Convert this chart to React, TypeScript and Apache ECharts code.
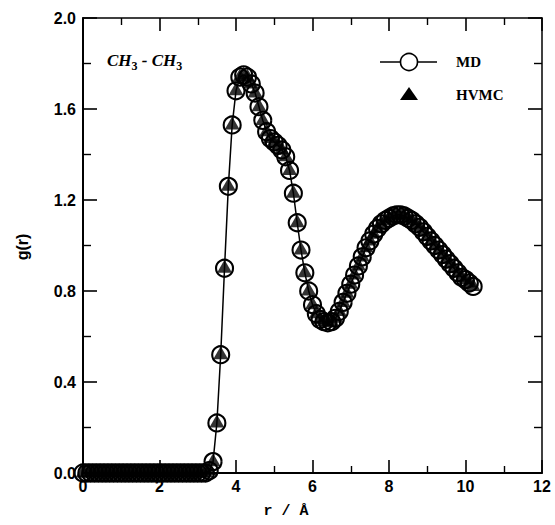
import { useEffect, useRef } from "react";
import * as echarts from "echarts";

// r / Å
const rValues = [
  0.0, 0.1, 0.2, 0.3, 0.4, 0.5, 0.6, 0.7, 0.8, 0.9,
  1.0, 1.1, 1.2, 1.3, 1.4, 1.5, 1.6, 1.7, 1.8, 1.9,
  2.0, 2.1, 2.2, 2.3, 2.4, 2.5, 2.6, 2.7, 2.8, 2.9,
  3.0, 3.1, 3.2, 3.3, 3.4, 3.5, 3.6, 3.7, 3.8, 3.9,
  4.0, 4.1, 4.2, 4.3, 4.4, 4.5, 4.6, 4.7, 4.8, 4.9,
  5.0, 5.1, 5.2, 5.3, 5.4, 5.5, 5.6, 5.7, 5.8, 5.9,
  6.0, 6.1, 6.2, 6.3, 6.4, 6.5, 6.6, 6.7, 6.8, 6.9,
  7.0, 7.1, 7.2, 7.3, 7.4, 7.5, 7.6, 7.7, 7.8, 7.9,
  8.0, 8.1, 8.2, 8.3, 8.4, 8.5, 8.6, 8.7, 8.8, 8.9,
  9.0, 9.1, 9.2, 9.3, 9.4, 9.5, 9.6, 9.7, 9.8, 9.9,
  10.0, 10.1, 10.2,
];

// g(r), MD
const mdG = [
  0, 0, 0, 0, 0, 0, 0, 0, 0, 0,
  0, 0, 0, 0, 0, 0, 0, 0, 0, 0,
  0, 0, 0, 0, 0, 0, 0, 0, 0, 0,
  0, 0, 0, 0.01, 0.05, 0.22, 0.52, 0.9, 1.26, 1.53,
  1.68, 1.74, 1.75, 1.74, 1.71, 1.67, 1.61, 1.55, 1.5, 1.47,
  1.455, 1.44, 1.42, 1.39, 1.33, 1.23, 1.1, 0.98, 0.88, 0.8,
  0.74, 0.7, 0.675, 0.665, 0.66, 0.665, 0.68, 0.71, 0.75, 0.79,
  0.83, 0.87, 0.91, 0.95, 0.99, 1.02, 1.05, 1.075, 1.095, 1.11,
  1.12, 1.13, 1.135, 1.135, 1.13, 1.12, 1.11, 1.095, 1.08, 1.06,
  1.04, 1.02, 1.0, 0.98, 0.96, 0.94, 0.92, 0.9, 0.88, 0.86,
  0.85, 0.835, 0.82,
];

// g(r), HVMC (coincides with MD in the figure)
const hvmcG = [
  0, 0, 0, 0, 0, 0, 0, 0, 0, 0,
  0, 0, 0, 0, 0, 0, 0, 0, 0, 0,
  0, 0, 0, 0, 0, 0, 0, 0, 0, 0,
  0, 0, 0, 0.01, 0.05, 0.22, 0.52, 0.9, 1.26, 1.53,
  1.68, 1.74, 1.75, 1.74, 1.71, 1.67, 1.61, 1.55, 1.5, 1.47,
  1.455, 1.44, 1.42, 1.39, 1.33, 1.23, 1.1, 0.98, 0.88, 0.8,
  0.74, 0.7, 0.675, 0.665, 0.66, 0.665, 0.68, 0.71, 0.75, 0.79,
  0.83, 0.87, 0.91, 0.95, 0.99, 1.02, 1.05, 1.075, 1.095, 1.11,
  1.12, 1.13, 1.135, 1.135, 1.13, 1.12, 1.11, 1.095, 1.08, 1.06,
  1.04, 1.02, 1.0, 0.98, 0.96, 0.94, 0.92, 0.9, 0.88, 0.86,
  0.85, 0.835, 0.82,
];

const xRange = [0, 12];
const xStep = 2;
const yRange = [0, 2];
const yStep = 0.4;
const seriesNames = ["MD", "HVMC"];

export default function App() {
  const ref = useRef<HTMLDivElement>(null);
  useEffect(() => {
    if (!ref.current) return;
    const chart = echarts.init(ref.current, null, { renderer: "svg" });
    const black = "#000";
    const labelFont = {
      color: black,
      fontFamily: "Liberation Sans",
      fontWeight: "bold" as const,
      fontSize: 16,
    };
    const mkX = (pos: "bottom" | "top", showLabel: boolean, w: number) => ({
      type: "value" as const,
      position: pos,
      min: xRange[0],
      max: xRange[1],
      interval: xStep,
      axisLine: { show: true, onZero: false, lineStyle: { color: black, width: w } },
      axisTick: { show: true, inside: true, length: 13, lineStyle: { color: black, width: 1.6 } },
      minorTick: { show: true, splitNumber: 2, length: 7, lineStyle: { color: black, width: 1.4 } },
      splitLine: { show: false },
      axisLabel: { show: showLabel, margin: 5, ...labelFont },
    });
    const mkY = (pos: "left" | "right", showLabel: boolean, w: number) => ({
      type: "value" as const,
      position: pos,
      min: yRange[0],
      max: yRange[1],
      interval: yStep,
      axisLine: { show: true, onZero: false, lineStyle: { color: black, width: w } },
      axisTick: { show: true, inside: true, length: 14, lineStyle: { color: black, width: 1.6 } },
      minorTick: { show: true, splitNumber: 2, length: 8, lineStyle: { color: black, width: 1.4 } },
      splitLine: { show: false },
      axisLabel: {
        show: showLabel,
        margin: 7,
        formatter: (v: number) => v.toFixed(1),
        ...labelFont,
      },
    });

    const mdData = rValues.map((r, i) => [r, mdG[i]]);
    const hvData = rValues.map((r, i) => [r, hvmcG[i]]);

    chart.setOption({
      animation: false,
      backgroundColor: "#fff",
      grid: { left: 83, right: 13, top: 18, bottom: 52, containLabel: false },
      xAxis: [mkX("bottom", true, 2), mkX("top", false, 1.5)],
      yAxis: [mkY("left", true, 2), mkY("right", false, 1.5)],
      series: [
        {
          name: seriesNames[0],
          type: "line",
          data: mdData,
          xAxisIndex: 0,
          yAxisIndex: 0,
          clip: false,
          symbol: "circle",
          symbolSize: 17,
          showAllSymbol: true,
          lineStyle: { color: black, width: 1.5 },
          itemStyle: { color: "none", borderColor: black, borderWidth: 2.1 },
          emphasis: { disabled: true },
          z: 2,
        },
        {
          name: seriesNames[1],
          type: "scatter",
          data: hvData,
          xAxisIndex: 0,
          yAxisIndex: 0,
          clip: false,
          symbol: "triangle",
          symbolSize: [15, 13],
          symbolOffset: [0, -2],
          itemStyle: { color: black },
          emphasis: { disabled: true },
          z: 3,
        },
      ],
      graphic: [
        // CH3 - CH3 annotation
        {
          type: "text",
          left: 107,
          top: 52,
          style: {
            text: "{a|CH}{s|3}{a| - CH}{s|3}",
            rich: {
              a: {
                fontFamily: "Liberation Serif",
                fontStyle: "italic",
                fontWeight: "bold",
                fontSize: 17,
                fill: black,
              },
              s: {
                fontFamily: "Liberation Serif",
                fontWeight: "bold",
                fontSize: 12,
                fill: black,
                padding: [10, 0, 0, 0],
              },
            },
          },
        },
        // legend: MD
        { type: "line", shape: { x1: 380, y1: 62, x2: 437, y2: 62 }, style: { stroke: black, lineWidth: 1.3 } },
        { type: "circle", shape: { cx: 409, cy: 62, r: 8.5 }, style: { fill: "#fff", stroke: black, lineWidth: 1.6 } },
        {
          type: "text",
          x: 456,
          y: 62,
          style: {
            text: seriesNames[0],
            fontFamily: "Liberation Serif",
            fontWeight: "bold",
            fontSize: 15,
            fill: black,
            verticalAlign: "middle",
          },
        },
        // legend: HVMC
        {
          type: "polygon",
          shape: { points: [[409, 87], [400, 100], [418, 100]] },
          style: { fill: black },
        },
        {
          type: "text",
          x: 456,
          y: 95,
          style: {
            text: seriesNames[1],
            fontFamily: "Liberation Serif",
            fontWeight: "bold",
            fontSize: 15,
            fill: black,
            verticalAlign: "middle",
          },
        },
        // axis names
        {
          type: "text",
          x: 22,
          y: 247,
          rotation: Math.PI / 2,
          style: {
            text: "g(r)",
            fontFamily: "Liberation Sans",
            fontWeight: "bold",
            fontSize: 16,
            fill: black,
            align: "center",
            verticalAlign: "middle",
          },
        },
        {
          type: "text",
          x: 286,
          y: 511,
          style: {
            text: "r / Å",
            fontFamily: "Liberation Mono",
            fontWeight: "bold",
            fontSize: 15,
            fill: black,
            align: "center",
            verticalAlign: "middle",
          },
        },
      ],
    });
    return () => chart.dispose();
  }, []);
  return (
    <div
      ref={ref}
      style={{ position: "absolute", left: 0, top: 0, width: 555, height: 525 }}
    />
  );
}
